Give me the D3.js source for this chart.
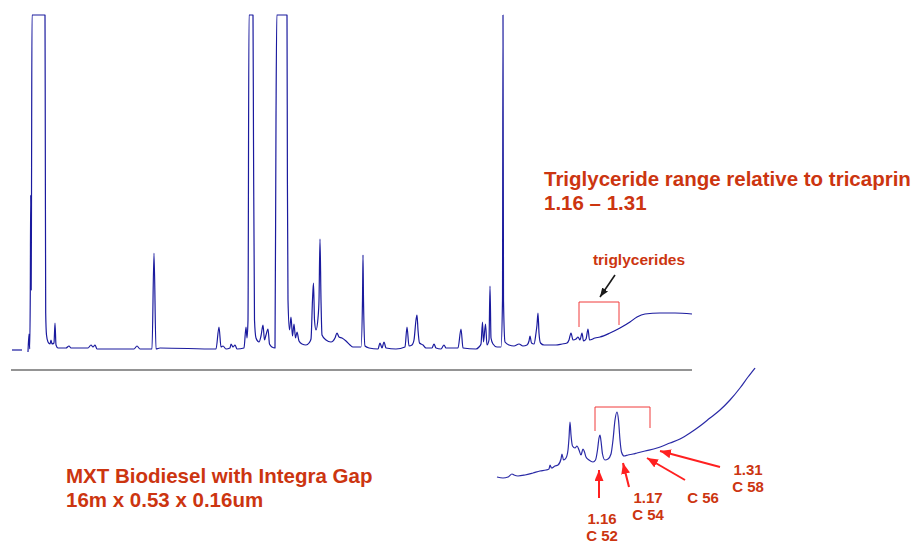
<!DOCTYPE html>
<html>
<head>
<meta charset="utf-8">
<script src="https://cdn.jsdelivr.net/npm/d3@7"></script>
<style>
  body { margin: 0; background: #fff; }
  text { font-family: "Liberation Sans", Arial, sans-serif; font-weight: bold; }
</style>
</head>
<body>
<div id="chart"></div>
<script>
// full chromatogram: [retention time (min), signal]
const mainDash = [[0, -1], [0.5, -1]];
const mainTrace = [
  [0.8, -3], [0.85, 15], [0.885, 0], [0.915, 59], [0.935, 154], [0.96, 59], [0.975, 149], [1.0, 334],
  [1.65, 334], [1.665, 209], [1.685, 36], [1.725, 14], [1.8, 7], [1.9, 5], [1.95, 9], [2.0, 5],
  [2.1, 6], [2.15, 26], [2.2, 4], [2.3, 1], [2.7, 1], [2.85, 3], [2.95, 1], [3.8, 1], [3.95, 4],
  [4.05, 2], [4.15, 4], [4.25, 0], [6.1, 0], [6.25, 3], [6.4, 0], [7.0, 0], [7.1, 96], [7.2, 0],
  [7.4, 1], [10.2, 0], [10.35, 22], [10.45, 2], [10.55, 3], [10.7, 0], [10.9, 1], [10.95, 5],
  [11.05, 2], [11.15, 4], [11.25, 0], [11.6, 1], [11.7, 22], [11.75, 11], [11.8, 29], [11.85, 334],
  [12.05, 334], [12.075, 209], [12.125, 29], [12.2, 11], [12.35, 7], [12.45, 13], [12.55, 24],
  [12.625, 9], [12.7, 14], [12.8, 20], [12.875, 5], [13.0, 2], [13.15, 1], [13.2, 229], [13.24, 334],
  [13.75, 334], [13.77, 169], [13.8, 49], [13.875, 19], [13.95, 32], [14.025, 13], [14.1, 25],
  [14.175, 11], [14.25, 17], [14.35, 8], [14.5, 5], [14.7, 4], [14.85, 6], [14.95, 10], [15.025, 49],
  [15.075, 66], [15.125, 29], [15.2, 19], [15.3, 31], [15.35, 49], [15.4, 110], [15.45, 49],
  [15.5, 14], [15.7, 9], [15.95, 7], [16.15, 11], [16.25, 16], [16.35, 12], [16.5, 11], [16.7, 8],
  [16.9, 4], [17.05, 2], [17.45, 2], [17.525, 49], [17.55, 94], [17.575, 49], [17.65, 3], [17.85, 1],
  [18.3, 0], [18.4, 6], [18.5, 1], [18.6, 7], [18.7, 1], [19.2, 0], [19.65, 2], [19.75, 22],
  [19.85, 3], [20.0, 4], [20.1, 9], [20.2, 29], [20.25, 34], [20.3, 19], [20.375, 6], [20.55, 4],
  [20.7, 1], [21.0, 1], [21.1, 5], [21.2, 1], [21.45, 0], [21.6, 4], [21.7, 1], [22.3, 1],
  [22.45, 20], [22.55, 1], [23.2, 0], [23.35, 2], [23.45, 5], [23.525, 27], [23.575, 7],
  [23.675, 25], [23.75, 4], [23.85, 9], [23.9, 63], [23.95, 11], [24.05, 5], [24.25, 2], [24.45, 2],
  [24.525, 49], [24.55, 334], [24.575, 49], [24.65, 7], [24.85, 4], [25.1, 3], [25.35, 5],
  [25.55, 3], [25.75, 4], [25.85, 8], [25.9, 13], [25.975, 6], [26.1, 5], [26.2, 16], [26.25, 24],
  [26.3, 36], [26.35, 16], [26.425, 6], [26.6, 4], [26.9, 4], [27.2, 4], [27.5, 5], [27.75, 6],
  [27.85, 9], [27.95, 16], [28.05, 9], [28.2, 10], [28.3, 12], [28.4, 9], [28.5, 16], [28.575, 8],
  [28.7, 10], [28.8, 20], [28.875, 9], [29.15, 11], [29.4, 12], [29.9, 16], [30.4, 21], [30.9, 27],
  [31.25, 32], [31.65, 35], [32.4, 36], [33.15, 36], [34.0, 35]
];

// expanded view of the triglyceride end: [time offset, signal]
const insetTrace = [
  [0, 3], [6, 2], [11, 3], [15, 6], [17, 5], [21, 4], [28, 5], [36, 7], [43, 9], [49, 10], [52, 11],
  [53, 15], [54.5, 12], [58, 14], [61, 15], [64, 21], [65, 26], [66.5, 20], [69, 22], [71, 30],
  [72, 42], [73, 58], [74, 45], [75.5, 34], [78, 32], [80, 34], [82, 30], [84, 25], [86, 31],
  [87.5, 28], [89, 23], [92, 20], [96, 18], [98.5, 20], [100.5, 30], [102, 42], [103, 45], [104, 39],
  [105.5, 26], [108, 20], [111, 21], [114, 26], [116, 40], [118, 60], [120, 68], [121.5, 60],
  [123, 40], [124.5, 28], [127, 24], [131, 25], [136, 26], [140, 27], [148, 29], [160, 32],
  [173, 37], [183, 41], [193, 47], [203, 54], [213, 62], [223, 70], [233, 80], [243, 92],
  [251, 103], [258, 112]
];

// triglyceride peak labels and where their arrows point
const peakLabels = [["1.16", "C 52"], ["1.17", "C 54"], ["", "C 56"], ["1.31", "C 58"]];
const peakArrowTips = [[102, 10], [126, 17], [150, 22], [163, 29]];
const peakArrowTails = [[102, -18], [132, -7], [188, 0], [223, 13]];

const titleLines = ["Triglyceride range relative to tricaprin", "1.16 \u2013 1.31"];
const columnLines = ["MXT Biodiesel with Integra Gap", "16m x 0.53 x 0.16um"];

const W = 917, H = 545;
const textRed = "#cc3510";
const lineBlue = "#1a1a9e";

const svg = d3.select("#chart").append("svg")
    .attr("width", W)
    .attr("height", H);

const defs = svg.append("defs");
function arrowMarker(id, color, len, wid) {
    defs.append("marker")
        .attr("id", id)
        .attr("markerUnits", "userSpaceOnUse")
        .attr("viewBox", `0 ${-wid / 2} ${len} ${wid}`)
        .attr("refX", len)
        .attr("refY", 0)
        .attr("markerWidth", len)
        .attr("markerHeight", wid)
        .attr("orient", "auto")
        .append("path")
        .attr("d", `M0,${-wid / 2}L${len},0L0,${wid / 2}Z`)
        .attr("fill", color);
}
arrowMarker("redHead", "#ff2020", 11, 9);
arrowMarker("blackHead", "#1a1a1a", 9, 7);

// scales for the full run
const x = d3.scaleLinear().domain([0, 34]).range([12, 692]);
const y = d3.scaleLinear().domain([0, 334]).range([349, 15]);

const line = d3.line()
    .x(d => x(d[0]))
    .y(d => y(d[1]))
    .curve(d3.curveMonotoneX);

svg.append("path")
    .datum(mainDash)
    .attr("d", line)
    .attr("fill", "none")
    .attr("stroke", lineBlue)
    .attr("stroke-width", 1.2);

svg.append("path")
    .datum(mainTrace)
    .attr("d", line)
    .attr("fill", "none")
    .attr("stroke", lineBlue)
    .attr("stroke-width", 1.2)
    .attr("stroke-linejoin", "round");

// grey rule under the chromatogram
svg.append("line")
    .attr("x1", x(-0.05)).attr("x2", x(34))
    .attr("y1", y(-21)).attr("y2", y(-21))
    .attr("stroke", "#707070")
    .attr("stroke-width", 1.6);

// bracket over the triglycerides in the full run
const bracket = [[28.35, 22], [28.35, 47], [30.35, 47], [30.35, 24]];
svg.append("path")
    .datum(bracket)
    .attr("d", d3.line().x(d => x(d[0])).y(d => y(d[1])))
    .attr("fill", "none")
    .attr("stroke", "#f03a3a")
    .attr("stroke-width", 1);

svg.append("line")
    .attr("x1", x(30.15)).attr("y1", y(74))
    .attr("x2", x(29.4)).attr("y2", y(52))
    .attr("stroke", "#1a1a1a")
    .attr("stroke-width", 1.6)
    .attr("marker-end", "url(#blackHead)");

svg.append("text")
    .attr("x", 639).attr("y", 265)
    .attr("text-anchor", "middle")
    .attr("font-size", 15.5)
    .attr("fill", textRed)
    .text("triglycerides");

// inset
const xi = d3.scaleLinear().domain([0, 258]).range([497, 755]);
const yi = d3.scaleLinear().domain([0, 112]).range([480, 368]);

const insetLine = d3.line()
    .x(d => xi(d[0]))
    .y(d => yi(d[1]))
    .curve(d3.curveMonotoneX);

svg.append("path")
    .datum(insetTrace)
    .attr("d", insetLine)
    .attr("fill", "none")
    .attr("stroke", "#2a2aa6")
    .attr("stroke-width", 1.2);

const insetBracket = [[98, 49], [98, 73], [153, 73], [153, 52]];
svg.append("path")
    .datum(insetBracket)
    .attr("d", d3.line().x(d => xi(d[0])).y(d => yi(d[1])))
    .attr("fill", "none")
    .attr("stroke", "#f03a3a")
    .attr("stroke-width", 1);

svg.selectAll(".peak-arrow")
    .data(peakArrowTips)
    .enter()
    .append("line")
    .attr("class", "peak-arrow")
    .attr("x1", (d, i) => xi(peakArrowTails[i][0]))
    .attr("y1", (d, i) => yi(peakArrowTails[i][1]))
    .attr("x2", d => xi(d[0]))
    .attr("y2", d => yi(d[1]))
    .attr("stroke", "#ff2020")
    .attr("stroke-width", 2)
    .attr("marker-end", "url(#redHead)");

// label anchor positions
const labelPos = [[602, 524], [648, 503], [703, 503], [748, 475]];
const labels = svg.selectAll(".peak-label")
    .data(peakLabels)
    .enter()
    .append("text")
    .attr("class", "peak-label")
    .attr("text-anchor", "middle")
    .attr("font-size", 15)
    .attr("fill", textRed)
    .attr("x", (d, i) => labelPos[i][0])
    .attr("y", (d, i) => labelPos[i][1]);

labels.each(function (d, i) {
    const t = d3.select(this);
    if (d[0]) {
        t.append("tspan").attr("x", labelPos[i][0]).text(d[0]);
        t.append("tspan").attr("x", labelPos[i][0]).attr("dy", 17).text(d[1]);
    } else {
        t.append("tspan").attr("x", labelPos[i][0]).text(d[1]);
    }
});

// text blocks
svg.selectAll(".title-line")
    .data(titleLines)
    .enter()
    .append("text")
    .attr("class", "title-line")
    .attr("x", 544)
    .attr("y", (d, i) => 186 + i * 23.5)
    .attr("font-size", 20.5)
    .attr("fill", textRed)
    .text(d => d);

svg.selectAll(".column-line")
    .data(columnLines)
    .enter()
    .append("text")
    .attr("class", "column-line")
    .attr("x", 66)
    .attr("y", (d, i) => 483 + i * 24)
    .attr("font-size", 20.5)
    .attr("fill", textRed)
    .text(d => d);
</script>
</body>
</html>
